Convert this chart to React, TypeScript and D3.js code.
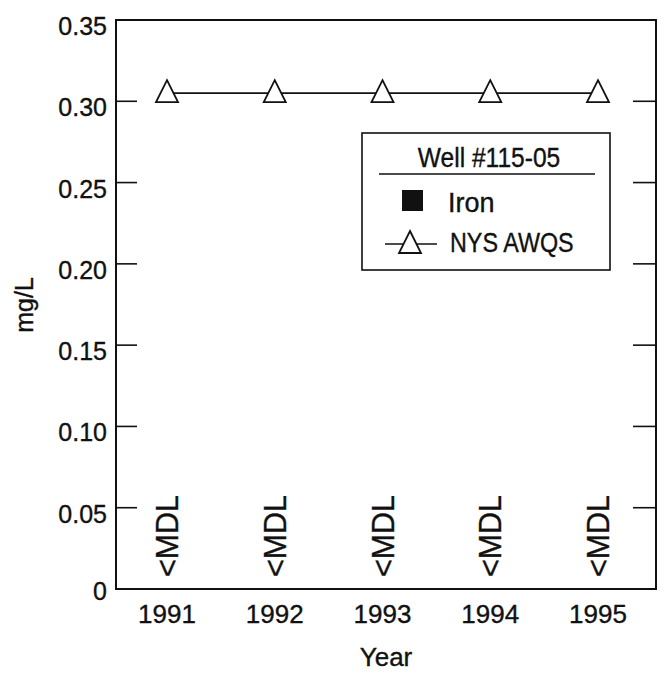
import React from "react";
import * as d3 from "d3";

const years = ["1991", "1992", "1993", "1994", "1995"];
const awqsValues = [0.305, 0.305, 0.305, 0.305, 0.305];
const ironLabels = ["<MDL", "<MDL", "<MDL", "<MDL", "<MDL"];
const yTicks = [0, 0.05, 0.1, 0.15, 0.2, 0.25, 0.3, 0.35];
const yTickLabels = ["0", "0.05", "0.10", "0.15", "0.20", "0.25", "0.30", "0.35"];
const legendTitle = "Well #115-05";
const legendItems = ["Iron", "NYS AWQS"];

const W = 670, H = 677;
const left = 116, right = 656, top = 20, bottom = 589;
const FONT = "'Liberation Sans', Arial, Helvetica, sans-serif";

const triPath = "M0,-13L11,9L-11,9Z";

function Label({ x, y, size, sx = 1, anchor = "start", rotate = 0, children }: any) {
  return (
    <text
      transform={`translate(${x},${y}) rotate(${rotate}) scale(${sx},1)`}
      fontSize={size}
      fontFamily={FONT}
      textAnchor={anchor}
      fill="#111"
      stroke="#111"
      strokeWidth={0.35}
    >
      {children}
    </text>
  );
}

export default function App() {
  const x = d3.scalePoint<string>().domain(years).range([167, 598]);
  const y = d3.scaleLinear().domain([0, 0.35]).range([bottom, top]);
  const line = d3
    .line<number>()
    .x((_, i) => x(years[i]) as number)
    .y((d) => y(d));

  return (
    <svg width={W} height={H} style={{ position: "absolute", left: 0, top: 0, background: "#fff" }}>
      <rect x={0} y={0} width={W} height={H} fill="#fff" />
      {/* frame */}
      <rect x={left} y={top} width={right - left} height={bottom - top} fill="none" stroke="#111" strokeWidth={2} />
      {/* ticks */}
      {yTicks.map((t, i) =>
        t > 0 && t < 0.35 ? (
          <g key={i}>
            <line x1={left} x2={left + 21} y1={y(t)} y2={y(t)} stroke="#111" strokeWidth={1.6} />
            <line x1={right - 23} x2={right} y1={y(t)} y2={y(t)} stroke="#111" strokeWidth={1.6} />
          </g>
        ) : null
      )}
      {yTicks.map((t, i) => (
        <Label key={i} x={107} y={y(t) + (t === 0 ? 11 : 15)} size={25} anchor="end">
          {yTickLabels[i]}
        </Label>
      ))}
      {years.map((yr) => (
        <Label key={yr} x={x(yr)} y={623} size={26} anchor="middle">
          {yr}
        </Label>
      ))}
      <Label x={386} y={666} size={26} anchor="middle">Year</Label>
      <Label x={33} y={305} size={25} anchor="middle" rotate={-90}>mg/L</Label>

      {/* Iron below MDL annotations */}
      {ironLabels.map((s, i) => (
        <Label key={i} x={(x(years[i]) as number) + 11} y={577} size={32} sx={0.95} anchor="start" rotate={-90}>
          {s}
        </Label>
      ))}

      {/* NYS AWQS line */}
      <path d={line(awqsValues) || ""} fill="none" stroke="#111" strokeWidth={1.8} />
      {awqsValues.map((v, i) => (
        <path
          key={i}
          d={triPath}
          transform={`translate(${x(years[i])},${y(v)})`}
          fill="#fff"
          stroke="#111"
          strokeWidth={1.8}
        />
      ))}

      {/* legend */}
      <rect x={362} y={133} width={248} height={137} fill="#fff" stroke="#111" strokeWidth={1.6} />
      <Label x={489} y={167} size={27} sx={0.91} anchor="middle">{legendTitle}</Label>
      <line x1={379} x2={595} y1={174} y2={174} stroke="#111" strokeWidth={1.6} />
      <rect x={402} y={190} width={21} height={21} fill="#111" />
      <Label x={448} y={212} size={27} anchor="start">{legendItems[0]}</Label>
      <line x1={385} x2={437} y1={244} y2={244} stroke="#111" strokeWidth={1.6} />
      <path d={triPath} transform="translate(410,244)" fill="#fff" stroke="#111" strokeWidth={1.8} />
      <Label x={450} y={252} size={27} sx={0.865} anchor="start">{legendItems[1]}</Label>
    </svg>
  );
}
